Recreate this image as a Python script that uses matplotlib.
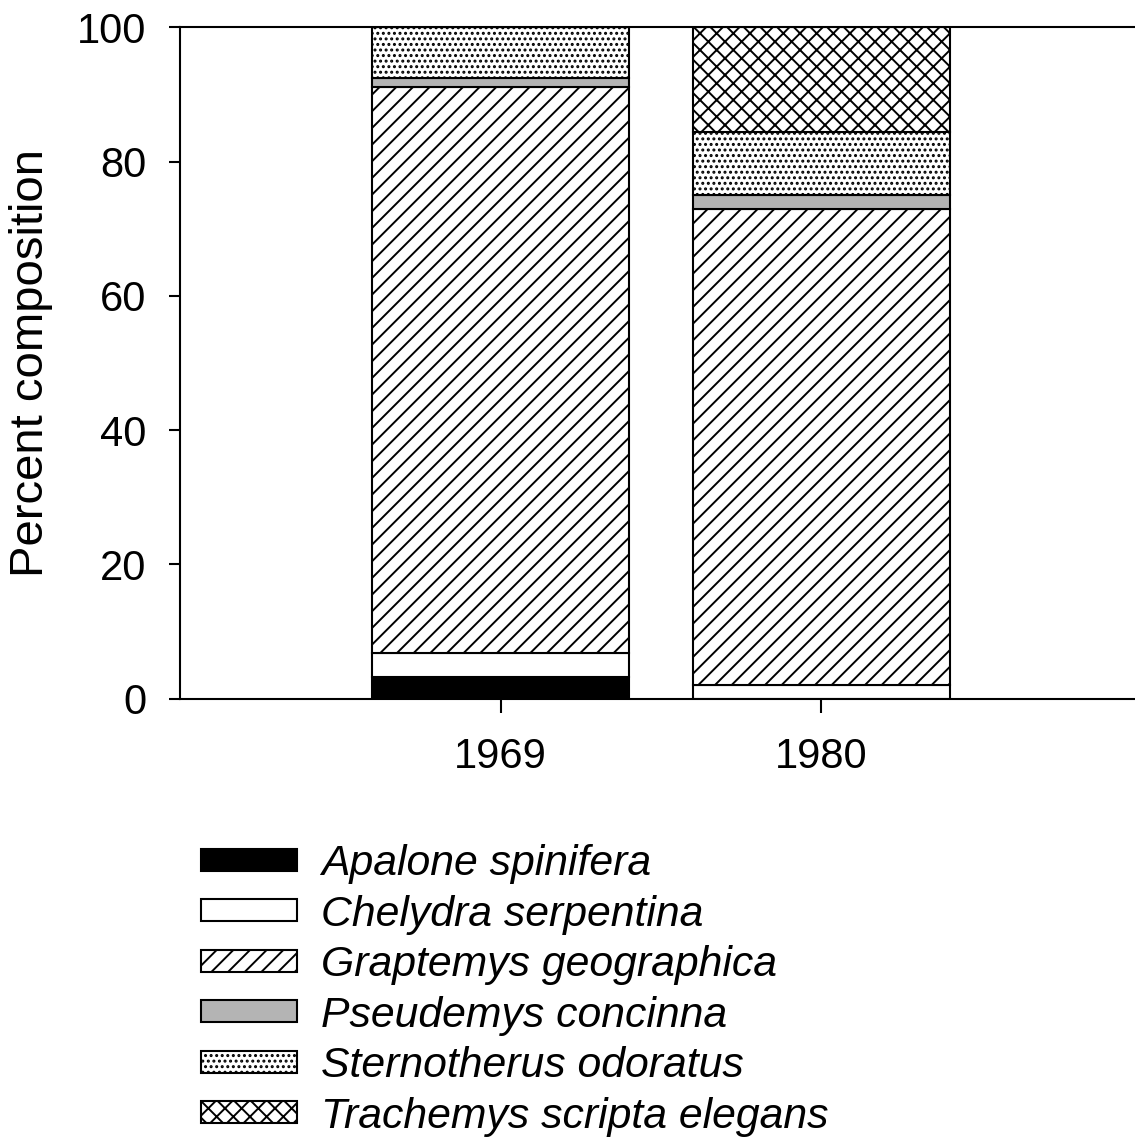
"""Turtle species composition by survey year, stacked percent bars."""

import matplotlib.pyplot as plt
from matplotlib.patches import Patch

plt.rcParams["font.family"] = ["Liberation Sans", "DejaVu Sans"]
plt.rcParams["hatch.linewidth"] = 1.4

years = ["1969", "1980"]
species = [
    "Apalone spinifera",
    "Chelydra serpentina",
    "Graptemys geographica",
    "Pseudemys concinna",
    "Sternotherus odoratus",
    "Trachemys scripta elegans",
]
apalone = [3.2, 0.0]
chelydra = [3.6, 2.0]
graptemys = [84.3, 71.0]
pseudemys = [1.3, 2.0]
sternotherus = [7.6, 9.4]
trachemys = [0.0, 15.6]

styles = [
    dict(facecolor="black", hatch=None),
    dict(facecolor="white", hatch=None),
    dict(facecolor="white", hatch="//"),
    dict(facecolor="#b4b4b4", hatch=None),
    dict(facecolor="white", hatch="..."),
    dict(facecolor="white", hatch="xx"),
]


def main() -> None:
    series = [apalone, chelydra, graptemys, pseudemys, sternotherus, trachemys]

    fig = plt.figure(figsize=(11.35, 11.39), dpi=100)
    ax = fig.add_axes([180 / 1135, 1 - 698.5 / 1139, 962 / 1135, 671.2 / 1139])

    x = list(range(len(years)))
    bottom = [0.0] * len(years)
    for vals, st in zip(series, styles):
        ax.bar(x, vals, width=0.8, bottom=bottom, facecolor=st["facecolor"],
               hatch=st["hatch"], edgecolor="black", linewidth=1.5)
        bottom = [b + v for b, v in zip(bottom, vals)]

    ax.set_xlim(-1, 2)
    ax.set_ylim(0, 100)
    ax.set_xticks(x, years)
    ax.set_yticks([0, 20, 40, 60, 80, 100])
    ax.tick_params(axis="both", labelsize=30, width=1.5, direction="out")
    ax.tick_params(axis="y", length=8, pad=16)
    ax.tick_params(axis="x", length=10, pad=18)
    for side in ["left", "bottom", "top", "right"]:
        ax.spines[side].set_linewidth(1.5)
    ax.set_ylabel("Percent composition", fontsize=34)
    ax.yaxis.set_label_coords(-0.132, 0.5)

    handles = [
        Patch(facecolor=st["facecolor"], hatch=st["hatch"], edgecolor="black",
              linewidth=1.5, label=name)
        for name, st in zip(species, styles)
    ]
    fig.legend(
        handles=handles,
        loc="upper left",
        bbox_to_anchor=(184 / 1135, 1 - 827 / 1139),
        frameon=False,
        prop={"size": 30.8, "style": "italic"},
        handlelength=2.25,
        handleheight=0.41,
        handletextpad=0.55,
        labelspacing=0.245,
        borderaxespad=0,
    )

    fig.savefig("out.png", dpi=100)
    plt.close(fig)


if __name__ == "__main__":
    main()
